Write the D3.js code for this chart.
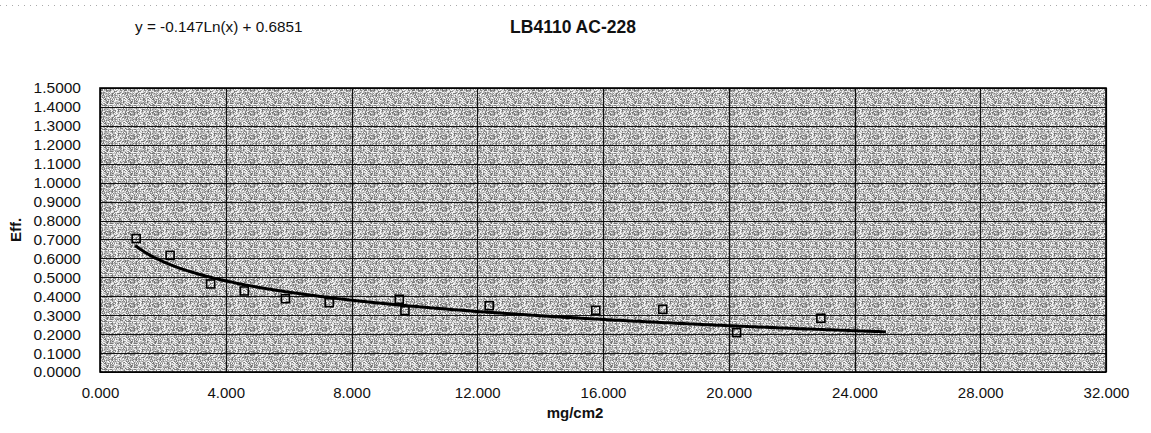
<!DOCTYPE html>
<html>
<head>
<meta charset="utf-8">
<script src="https://cdn.jsdelivr.net/npm/d3@7"></script>
<style>
  body { margin: 0; background: #fff; }
  svg text { font-family: "Liberation Sans", Arial, sans-serif; fill: #111; }
</style>
</head>
<body>
<div id="chart"></div>
<script>
var xValues = [1.15, 2.23, 3.52, 4.59, 5.90, 7.29, 9.52, 9.70, 12.38, 15.77, 17.90, 20.25, 22.93];
var yValues = [0.705, 0.616, 0.465, 0.428, 0.387, 0.366, 0.384, 0.324, 0.350, 0.326, 0.331, 0.208, 0.284];

// log trendline y = a*ln(x) + b, drawn over the fitted range
var trendA = -0.147,
    trendB = 0.6851,
    trendRange = [1.12, 25.0];

var xTicks = [0, 4, 8, 12, 16, 20, 24, 28, 32];
var yTicks = [0, 0.1, 0.2, 0.3, 0.4, 0.5, 0.6, 0.7, 0.8, 0.9, 1.0, 1.1, 1.2, 1.3, 1.4, 1.5];

var chartTitle = "LB4110 AC-228",
    equationText = "y = -0.147Ln(x) + 0.6851",
    xTitle = "mg/cm2",
    yTitle = "Eff.";

var width = 1151,
    height = 433,
    margin = {top: 88, right: 45, bottom: 61, left: 100};

var svg = d3.select("#chart").append("svg")
    .attr("width", width)
    .attr("height", height);

// speckled grey fill like the scanned print (fixed pseudo-random texture)
var defs = svg.append("defs");
var pn = 24;
var pat = defs.append("pattern")
    .attr("id", "stipple")
    .attr("width", pn)
    .attr("height", pn)
    .attr("patternUnits", "userSpaceOnUse");
pat.append("rect").attr("width", pn).attr("height", pn).attr("fill", "#b4b4b4");
var seed = 12345;
function rnd() {
    seed = (seed * 1103515245 + 12345) % 2147483648;
    return seed / 2147483648;
}
for (var py = 0; py < pn; py++) {
    for (var px = 0; px < pn; px++) {
        var r = rnd();
        var g = r < 0.3 ? 110 + Math.floor(rnd() * 40) : (r < 0.62 ? 225 + Math.floor(rnd() * 30) : 170 + Math.floor(rnd() * 30));
        pat.append("rect").attr("x", px).attr("y", py).attr("width", 1).attr("height", 1)
            .attr("fill", d3.rgb(g, g, g));
    }
}

var x = d3.scaleLinear().domain([0, 32]).range([margin.left, width - margin.right]);
var y = d3.scaleLinear().domain([0, 1.5]).range([height - margin.bottom, margin.top]);

// faint scan artefact line at the very top
svg.append("line")
    .attr("x1", 0).attr("x2", width)
    .attr("y1", 5.5).attr("y2", 5.5)
    .attr("stroke", "#aaa")
    .attr("stroke-dasharray", "1,5");

svg.append("rect")
    .attr("x", x(0))
    .attr("y", y(1.5))
    .attr("width", x(32) - x(0))
    .attr("height", y(0) - y(1.5))
    .attr("fill", "url(#stipple)");

// gridlines
svg.append("g").selectAll("line")
    .data(yTicks)
    .enter().append("line")
    .attr("x1", x(0)).attr("x2", x(32))
    .attr("y1", function (d) { return Math.round(y(d)) + 0.5; })
    .attr("y2", function (d) { return Math.round(y(d)) + 0.5; })
    .attr("stroke", "#111")
    .attr("stroke-width", 1.2);

svg.append("g").selectAll("line")
    .data(xTicks)
    .enter().append("line")
    .attr("x1", function (d) { return Math.round(x(d)) + 0.5; })
    .attr("x2", function (d) { return Math.round(x(d)) + 0.5; })
    .attr("y1", y(1.5)).attr("y2", y(0))
    .attr("stroke", "#111")
    .attr("stroke-width", 1.2);

svg.append("rect")
    .attr("x", x(0))
    .attr("y", y(1.5))
    .attr("width", x(32) - x(0))
    .attr("height", y(0) - y(1.5))
    .attr("fill", "none")
    .attr("stroke", "#000")
    .attr("stroke-width", 1.6);

// axes (labels only, Excel style)
var xAxis = svg.append("g")
    .attr("transform", "translate(0," + (y(0) + 12) + ")")
    .call(d3.axisBottom(x).tickValues(xTicks).tickFormat(d3.format(".3f")).tickSize(0));
xAxis.select(".domain").remove();
xAxis.selectAll("text").attr("font-size", 15).attr("font-family", "Liberation Sans, Arial, sans-serif");

var yAxis = svg.append("g")
    .attr("transform", "translate(" + (x(0) - 16) + ",0)")
    .call(d3.axisLeft(y).tickValues(yTicks).tickFormat(d3.format(".4f")).tickSize(0));
yAxis.select(".domain").remove();
yAxis.selectAll("text").attr("font-size", 15.5).attr("font-family", "Liberation Sans, Arial, sans-serif");

// trendline
var trendPts = d3.range(0, 201).map(function (i) {
    var xv = trendRange[0] + (trendRange[1] - trendRange[0]) * i / 200;
    return [xv, trendA * Math.log(xv) + trendB];
});
svg.append("path")
    .datum(trendPts)
    .attr("fill", "none")
    .attr("stroke", "#000")
    .attr("stroke-width", 3)
    .attr("d", d3.line()
        .x(function (d) { return x(d[0]); })
        .y(function (d) { return y(d[1]); }));

// markers
var sq = 8;
svg.append("g").selectAll("rect")
    .data(xValues)
    .enter().append("rect")
    .attr("x", function (d) { return x(d) - sq / 2; })
    .attr("y", function (d, i) { return y(yValues[i]) - sq / 2; })
    .attr("width", sq)
    .attr("height", sq)
    .attr("fill", "none")
    .attr("stroke", "#000")
    .attr("stroke-width", 1.6);

// titles
svg.append("text")
    .attr("x", 573).attr("y", 33)
    .attr("text-anchor", "middle")
    .attr("font-size", 17.5)
    .attr("font-weight", "bold")
    .text(chartTitle);

svg.append("text")
    .attr("x", 135).attr("y", 32)
    .attr("font-size", 15.3)
    .text(equationText);

svg.append("text")
    .attr("x", 575).attr("y", 418)
    .attr("text-anchor", "middle")
    .attr("font-size", 15)
    .attr("font-weight", "bold")
    .text(xTitle);

svg.append("text")
    .attr("transform", "translate(21,230) rotate(-90)")
    .attr("text-anchor", "middle")
    .attr("font-size", 15)
    .attr("font-weight", "bold")
    .text(yTitle);
</script>
</body>
</html>
